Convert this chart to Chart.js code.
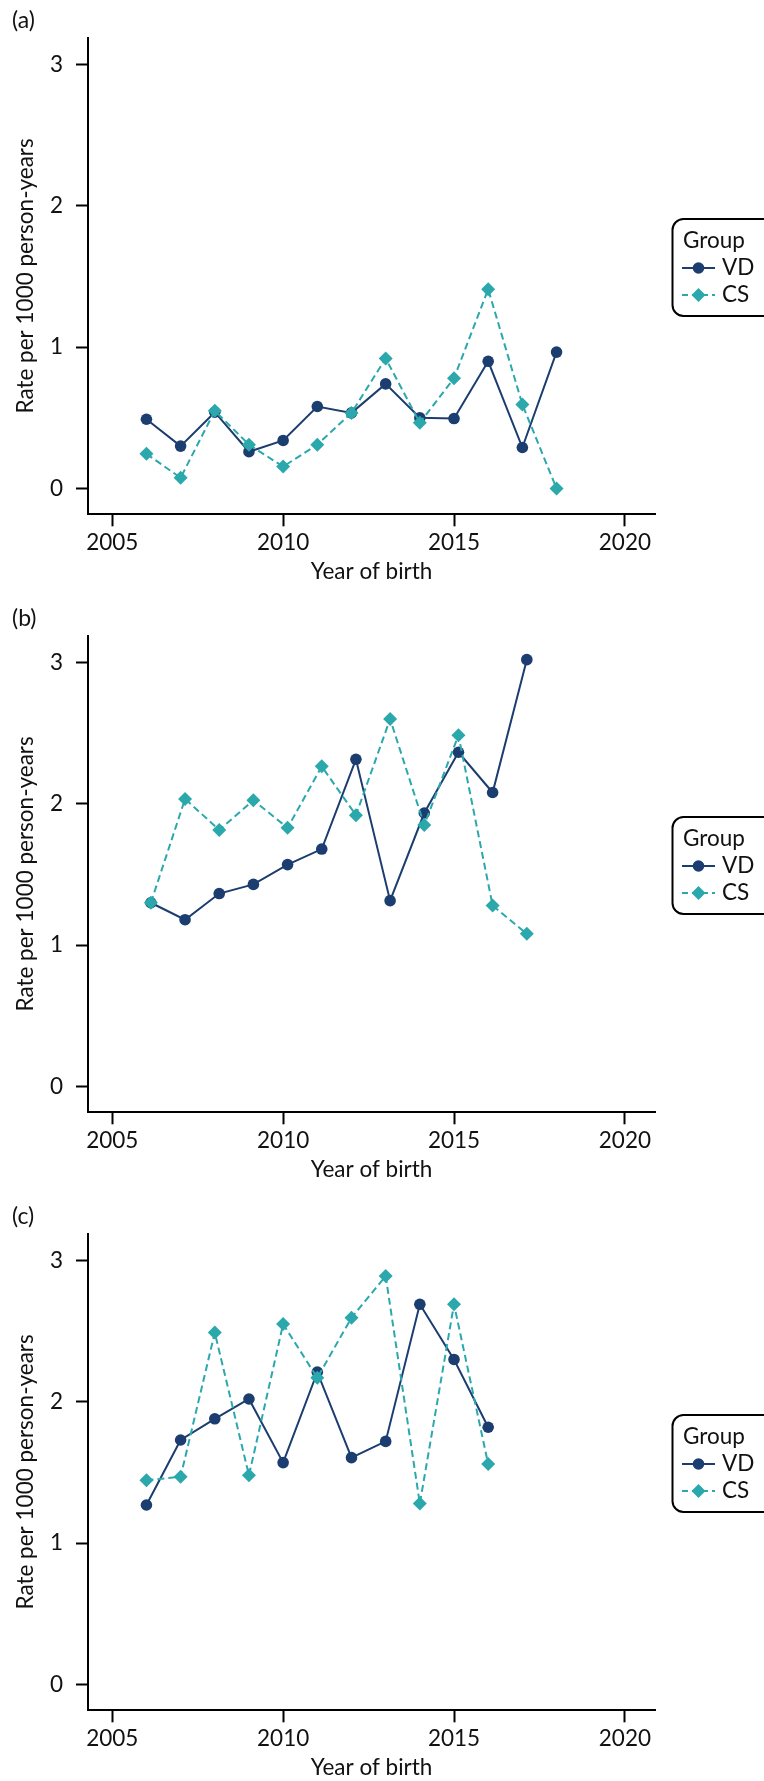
<!DOCTYPE html>
<html><head><meta charset="utf-8">
<script src="https://cdn.jsdelivr.net/npm/chart.js@4"></script>
<style>
html,body{margin:0;padding:0;background:#fff;width:764px;height:1781px;overflow:hidden;position:relative;}
.panel{position:absolute;left:0;width:764px;height:597px;}
.lab{position:absolute;left:12px;font-family:Lato,sans-serif;font-size:23px;line-height:23px;color:#111;}
canvas{display:block;}
</style></head><body>
<div class="panel" style="top:0"><canvas id="ca" width="764" height="597"></canvas></div>
<div class="panel" style="top:598px"><canvas id="cb" width="764" height="597"></canvas></div>
<div class="panel" style="top:1196px"><canvas id="cc" width="764" height="597"></canvas></div>
<div class="lab" style="top:8px">(a)</div>
<div class="lab" style="top:606px">(b)</div>
<div class="lab" style="top:1204px">(c)</div>
<script>
// ---- data ----
const yTitle = 'Rate per 1000 person-years';
const xTitle = 'Year of birth';
const legendTitle = 'Group';
const seriesNames = ['VD', 'CS'];
const xTicks = [2005, 2010, 2015, 2020];
const yTicks = [0, 1, 2, 3];

const yearsA = [2006, 2007, 2008, 2009, 2010, 2011, 2012, 2013, 2014, 2015, 2016, 2017, 2018];
const vdA = [0.49, 0.30, 0.54, 0.26, 0.34, 0.58, 0.535, 0.74, 0.50, 0.495, 0.90, 0.29, 0.965];
const csA = [0.245, 0.076, 0.55, 0.31, 0.155, 0.31, 0.535, 0.92, 0.465, 0.78, 1.41, 0.595, 0.0];

const yearsB = [2006.13, 2007.13, 2008.13, 2009.13, 2010.13, 2011.13, 2012.13, 2013.13, 2014.13, 2015.13, 2016.13, 2017.13];
const vdB = [1.30, 1.18, 1.365, 1.43, 1.57, 1.68, 2.315, 1.315, 1.935, 2.365, 2.08, 3.02];
const csB = [1.30, 2.035, 1.815, 2.025, 1.83, 2.265, 1.92, 2.60, 1.85, 2.485, 1.28, 1.08];

const yearsC = [2006, 2007, 2008, 2009, 2010, 2011, 2012, 2013, 2014, 2015, 2016];
const vdC = [1.27, 1.73, 1.88, 2.02, 1.57, 2.21, 1.605, 1.72, 2.69, 2.30, 1.82];
const csC = [1.445, 1.47, 2.49, 1.48, 2.55, 2.17, 2.595, 2.89, 1.28, 2.69, 1.56];

// ---- styles ----
const VD_COLOR = '#1b3d70';
const CS_COLOR = '#2ba8ac';
const FONT = 'Lato, "Open Sans", sans-serif';
const FS = 22.5;
const TXT = '#111';

const legendPlugin = {
  id: 'grpLegend',
  afterDraw(chart) {
    const ctx = chart.ctx;
    ctx.save();
    ctx.beginPath();
    ctx.roundRect(672.5, 219, 120, 97, 11);
    ctx.lineWidth = 2;
    ctx.strokeStyle = '#000';
    ctx.stroke();
    ctx.font = FS + 'px ' + FONT;
    ctx.fillStyle = TXT;
    ctx.textBaseline = 'middle';
    ctx.textAlign = 'left';
    ctx.fillText(legendTitle, 683, 241);
    const rows = [
      {y: 268, color: VD_COLOR, dash: [], shape: 'circle', label: chart.data.datasets[0].label},
      {y: 295, color: CS_COLOR, dash: [6, 4], shape: 'diamond', label: chart.data.datasets[1].label}
    ];
    rows.forEach(r => {
      ctx.beginPath();
      ctx.setLineDash(r.dash);
      ctx.lineWidth = 2;
      ctx.strokeStyle = r.color;
      ctx.moveTo(682, r.y); ctx.lineTo(715, r.y);
      ctx.stroke();
      ctx.setLineDash([]);
      ctx.fillStyle = r.color;
      ctx.beginPath();
      if (r.shape === 'circle') {
        ctx.arc(698.5, r.y, 5.8, 0, Math.PI * 2);
      } else {
        ctx.moveTo(698.5, r.y - 7); ctx.lineTo(705.5, r.y); ctx.lineTo(698.5, r.y + 7); ctx.lineTo(691.5, r.y);
        ctx.closePath();
      }
      ctx.fill();
      ctx.fillStyle = TXT;
      ctx.fillText(r.label, 722, r.y);
    });
    ctx.restore();
  }
};

function makeChart(id, xs, vd, cs) {
  const toPts = (arr) => arr.map((v, i) => ({x: xs[i], y: v}));
  return new Chart(document.getElementById(id), {
    type: 'line',
    data: {
      datasets: [
        {label: seriesNames[0], data: toPts(vd), borderColor: VD_COLOR, backgroundColor: VD_COLOR,
         borderWidth: 2, pointStyle: 'circle', pointRadius: 5.8, pointBorderWidth: 0, order: 1, tension: 0},
        {label: seriesNames[1], data: toPts(cs), borderColor: CS_COLOR, backgroundColor: CS_COLOR,
         borderWidth: 2, borderDash: [7, 4], pointStyle: 'rectRot', pointRadius: 7, pointBorderWidth: 0, order: 0, tension: 0}
      ]
    },
    options: {
      responsive: false,
      animation: false,
      events: [],
      layout: {padding: {top: 37.5, left: 0, right: 108.7, bottom: 0}},
      plugins: {legend: {display: false}, tooltip: {enabled: false}},
      scales: {
        x: {
          type: 'linear', min: 2004.29, max: 2020.89,
          afterBuildTicks: (s) => { s.ticks = xTicks.map(v => ({value: v})); },
          afterFit: (s) => { s.height = 82.7; },
          border: {display: true, color: '#000', width: 2},
          grid: {drawOnChartArea: false, drawTicks: true, tickLength: 12, tickWidth: 2, tickColor: '#000'},
          ticks: {color: TXT, font: {family: FONT, size: FS}, padding: 3, maxRotation: 0, autoSkip: false,
                  callback: (v) => String(v)},
          title: {display: true, text: xTitle, color: TXT, font: {family: FONT, size: FS}, padding: {top: 0, bottom: 11.5}}
        },
        y: {
          type: 'linear', min: -0.1826, max: 3.191,
          afterBuildTicks: (s) => { s.ticks = yTicks.map(v => ({value: v})); },
          afterFit: (s) => { s.width = 88; },
          border: {display: true, color: '#000', width: 2},
          grid: {drawOnChartArea: false, drawTicks: true, tickLength: 12, tickWidth: 2, tickColor: '#000'},
          ticks: {color: TXT, font: {family: FONT, size: FS}, padding: 13, autoSkip: false,
                  callback: (v) => String(v)},
          title: {display: true, text: yTitle, color: TXT, font: {family: FONT, size: FS}, padding: {top: 12, bottom: 0}}
        }
      }
    },
    plugins: [legendPlugin]
  });
}

makeChart('ca', yearsA, vdA, csA);
makeChart('cb', yearsB, vdB, csB);
makeChart('cc', yearsC, vdC, csC);
</script>
</body></html>
